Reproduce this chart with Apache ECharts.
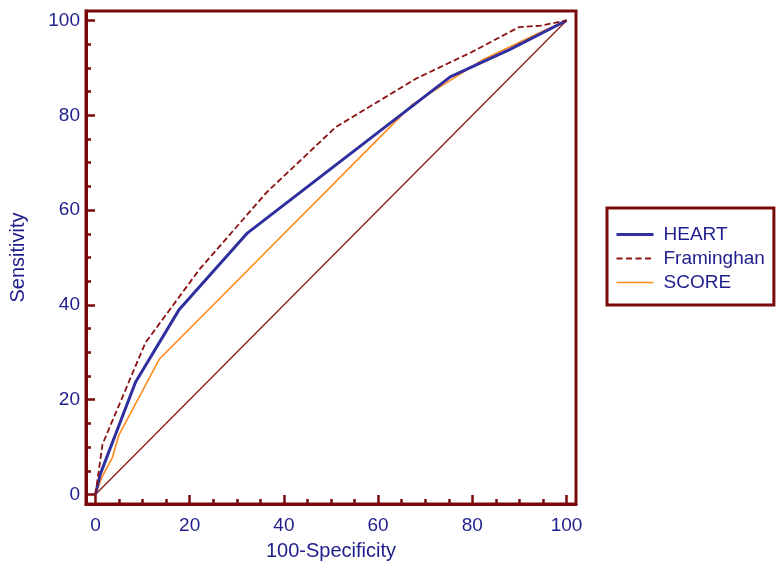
<!DOCTYPE html>
<html>
<head>
<meta charset="utf-8">
<script src="https://cdn.jsdelivr.net/npm/echarts@6/dist/echarts.min.js"></script>
<style>
html,body{margin:0;padding:0;background:#fff;}
#chart{width:784px;height:571px;}
</style>
</head>
<body>
<div id="chart"></div>
<script>
// ---- data ----
var heartX = [0, 1, 8.5, 17.7, 32.3, 75.3, 88, 100];
var heartY = [0, 4.2, 23.7, 38.9, 55.2, 88.1, 93.9, 100];

var framX = [0, 1.5, 10.6, 22, 36.4, 51, 68, 80, 89.9, 94.5, 100];
var framY = [0, 10.6, 32, 47.4, 63.8, 77.5, 87.7, 93.4, 98.6, 98.9, 100];

var scoreX = [0, 1.3, 3.6, 5, 13.6, 67.3, 82, 93.8, 100];
var scoreY = [0, 3.5, 7.8, 12.6, 28.6, 82.3, 91.6, 97.2, 100];

var refX = [0, 100];
var refY = [0, 100];

var majorTicks = [0, 20, 40, 60, 80, 100];
var minorTicks = [5, 10, 15, 25, 30, 35, 45, 50, 55, 65, 70, 75, 85, 90, 95];

var seriesNames = ['HEART', 'Framinghan', 'SCORE'];
var xName = '100-Specificity';
var yName = 'Sensitivity';

function pairs(xs, ys) { return xs.map(function (x, i) { return [x, ys[i]]; }); }

var frame = '#7a0a0a';
var txt = '#1e1e8c';
var font = 'Liberation Sans, Arial, sans-serif';
var cHeart = '#2f2f9f', cFram = '#8b1010', cScore = '#ff8a1c';

function mainAxis(pos, name, gap) {
  return {
    type: 'value', position: pos, min: -2, max: 102,
    name: name, nameLocation: 'middle', nameGap: gap,
    nameTextStyle: { color: txt, fontSize: 20, fontFamily: font },
    axisLine: { show: true, onZero: false, lineStyle: { color: frame, width: 3 } },
    axisTick: { show: true, inside: true, length: 9, customValues: majorTicks,
                lineStyle: { color: frame, width: 2.5 } },
    axisLabel: { show: true, customValues: majorTicks, color: txt, fontSize: 19,
                 fontFamily: font, margin: pos === 'bottom' ? 12 : 6 },
    splitLine: { show: false }
  };
}
function minorAxis(pos) {
  return {
    type: 'value', position: pos, min: -2, max: 102,
    axisLine: { show: false, onZero: false },
    axisTick: { show: true, inside: true, length: 5, customValues: minorTicks,
                lineStyle: { color: frame, width: 2.5 } },
    axisLabel: { show: false },
    splitLine: { show: false }
  };
}

var chart = echarts.init(document.getElementById('chart'));
chart.setOption({
  animation: false,
  backgroundColor: '#fff',
  grid: { left: 83, top: 11, right: 208, bottom: 67, show: true,
          borderColor: frame, borderWidth: 3, backgroundColor: 'transparent' },
  xAxis: [mainAxis('bottom', xName, 37), minorAxis('bottom')],
  yAxis: [mainAxis('left', yName, 58), minorAxis('left')],
  legend: {
    data: [
      { name: seriesNames[0], lineStyle: { color: cHeart, width: 3 } },
      { name: seriesNames[1], lineStyle: { color: cFram, width: 1.8, type: [6, 3.5] } },
      { name: seriesNames[2], lineStyle: { color: cScore, width: 1.6 } }
    ],
    orient: 'vertical',
    left: 607, top: 208,
    itemWidth: 37, itemHeight: 14, itemGap: 5,
    padding: [17, 9, 13, 8],
    borderColor: frame, borderWidth: 3,
    itemStyle: { opacity: 0 },
    textStyle: { color: txt, fontSize: 19, fontFamily: font, lineHeight: 19, padding: [0, 0, 0, 5] }
  },
  series: [
    { type: 'line', name: 'ref', data: pairs(refX, refY), symbol: 'none', silent: true,
      lineStyle: { color: '#8b1a1a', width: 1.3 }, z: 1 },
    { type: 'line', name: seriesNames[2], data: pairs(scoreX, scoreY), symbol: 'none',
      itemStyle: { color: cScore }, lineStyle: { color: cScore, width: 1.6 }, z: 2 },
    { type: 'line', name: seriesNames[0], data: pairs(heartX, heartY), symbol: 'none',
      itemStyle: { color: cHeart }, lineStyle: { color: cHeart, width: 3 }, z: 3 },
    { type: 'line', name: seriesNames[1], data: pairs(framX, framY), symbol: 'none',
      itemStyle: { color: cFram }, lineStyle: { color: cFram, width: 1.8, type: [6, 3] }, z: 4 }
  ]
});
</script>
</body>
</html>
